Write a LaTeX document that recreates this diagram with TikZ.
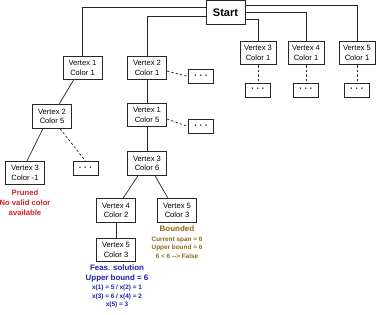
\documentclass[tikz,border=0pt]{standalone}
\usepackage{fontspec}
\setmainfont{Liberation Sans}
\usepackage{tikz}
\definecolor{prunedred}{RGB}{205,35,40}
\definecolor{boundbrown}{RGB}{140,105,25}
\definecolor{feasblue}{RGB}{30,30,165}

\begin{document}
\begin{tikzpicture}[x=1pt, y=-1pt, every node/.style={font=\fontsize{7.6}{9.5}\selectfont},
	vbox/.style={draw=black!85, line width=0.8pt, fill=white, align=center, minimum width=39pt, minimum height=23.5pt, inner sep=1pt},
	dotbox/.style={draw=black!85, line width=0.8pt, fill=white, minimum width=25pt, minimum height=14pt, inner sep=0pt, font=\fontsize{8.5}{9}\selectfont\bfseries},
	tree/.style={line width=0.7pt, black!85},
	skipped/.style={tree, dash pattern=on 2.5pt off 2pt}]
	\useasboundingbox (0,0) rectangle (378,315);
	\node[vbox, font=\fontsize{11}{13}\selectfont\bfseries] (start) at (225.5,12.5) {Start};
	\node[vbox] (v11) at (82.5,68) {Vertex 1\\Color 1};
	\node[vbox] (v21) at (147,68) {Vertex 2\\Color 1};
	\node[dotbox] (d21) at (201,76.5) {· · ·};
	\node[vbox] (v25) at (52,116.5) {Vertex 2\\Color 5};
	\node[vbox] (v3x) at (25,173) {Vertex 3\\Color -1};
	\node[dotbox] (d25) at (85.5,168.5) {· · ·};
	\node[vbox] (v15) at (147,115) {Vertex 1\\Color 5};
	\node[dotbox] (d15) at (201,126.5) {· · ·};
	\node[vbox] (v36) at (147,163.5) {Vertex 3\\Color 6};
	\node[vbox] (v42) at (116,210.5) {Vertex 4\\Color 2};
	\node[vbox] (v53b) at (177,210.5) {Vertex 5\\Color 3};
	\node[vbox] (v53f) at (116,250) {Vertex 5\\Color 3};
	\foreach \n/\x/\dy in {3/258/-6.5,4/306/0.5,5/357/7.5} {
		\node[vbox, minimum width=36pt] (v\n1) at (\x,53) {Vertex \n\\Color 1};
		\node[dotbox] (d\n1) at (\x,90) {· · ·};
		\draw[tree] ([yshift=\dy pt]start.east) -| (v\n1.north);
		\draw[skipped] (v\n1.south) -- (d\n1.north);
	}
	\draw[tree] ([yshift=5.5pt]start.west) -| (v11.north);
	\draw[tree] ([yshift=-3.5pt]start.west) -| (v21.north);
	\draw[tree] (v21.south) -- (v15.north);
	\draw[tree] (v15.south) -- (v36.north);
	\draw[skipped] ([yshift=-3pt]v21.east) -- (d21.west);
	\draw[skipped] ([yshift=-4pt]v15.east) -- (d15.west);
	\draw[tree] ([xshift=-9pt]v11.south) -- ([xshift=7pt]v25.north);
	\draw[tree] ([xshift=-9pt]v25.south) -- ([xshift=2pt]v3x.north);
	\draw[skipped] ([xshift=8pt]v25.south) -- (d25.north);
	\draw[tree] ([xshift=-9pt]v36.south) -- ([xshift=7pt]v42.north);
	\draw[tree] ([xshift=8pt]v36.south) -- ([xshift=-9pt]v53b.north);
	\draw[tree] (v42.south) -- (v53f.north);
	% notes under the leaves
	\node[prunedred, font=\fontsize{7.7}{10}\selectfont\bfseries, align=center] (pruned) at (25,202.5) {Pruned\\No valid color\\available};
	\node[boundbrown, font=\fontsize{8}{10}\selectfont\bfseries] (bounded) at (177,229) {Bounded};
	\node[boundbrown, font=\fontsize{6.4}{8.5}\selectfont\bfseries, align=center] (boundnote) at (177,247.5) {Current span = 6\\Upper bound = 6\\6 < 6 -{}-> False};
	\node[feasblue, font=\fontsize{7.9}{9.5}\selectfont\bfseries, align=center] (feas) at (117,273.5) {Feas. solution\\Upper bound = 6};
	\node[feasblue, font=\fontsize{6.4}{8.5}\selectfont\bfseries, align=center] (feasx) at (117,296.5) {x(1) = 5 / x(2) = 1\\x(3) = 6 / x(4) = 2\\x(5) = 3};
\end{tikzpicture}
\end{document}
